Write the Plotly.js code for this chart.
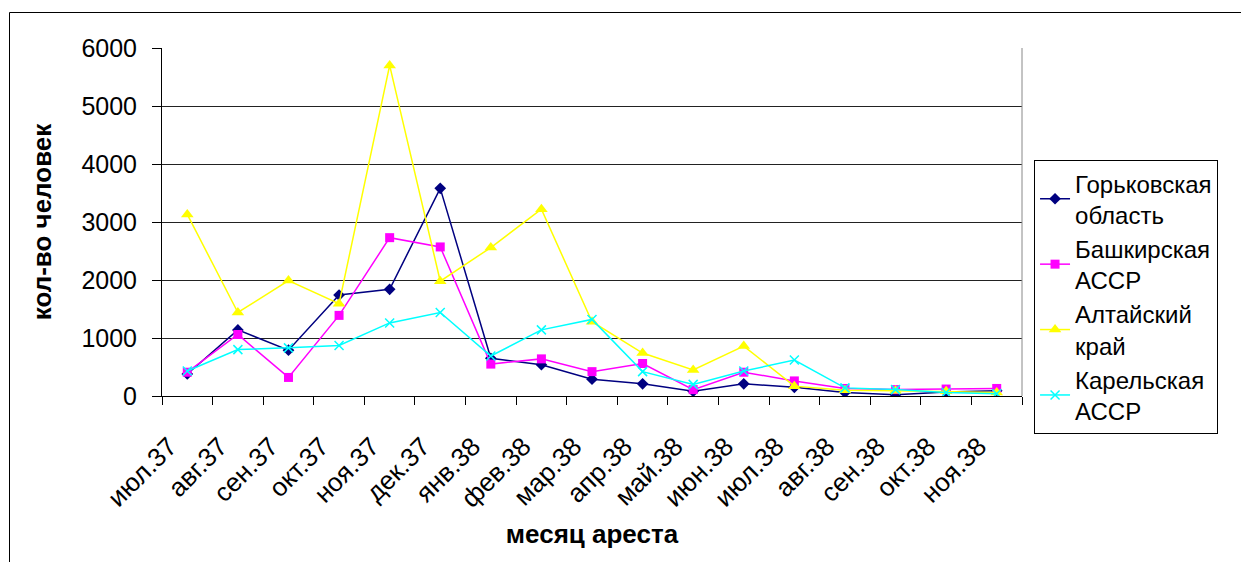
<!DOCTYPE html>
<html>
<head>
<meta charset="utf-8">
<script src="https://cdn.plot.ly/plotly-3.0.1.min.js"></script>
<style>
html,body{margin:0;padding:0;background:#fff;}
#chart{width:1241px;height:562px;}
</style>
</head>
<body>
<div id="chart"></div>
<script>
const months = ["июл.37","авг.37","сен.37","окт.37","ноя.37","дек.37","янв.38","фев.38","мар.38","апр.38","май.38","июн.38","июл.38","авг.38","сен.38","окт.38","ноя.38"];
const gorky   = [380, 1140, 790, 1740, 1840, 3580, 650, 540, 290, 210, 80, 210, 150, 60, 20, 70, 90];
const bashkir = [410, 1060, 320, 1390, 2730, 2570, 550, 640, 420, 560, 110, 410, 260, 130, 110, 120, 130];
const altai   = [3130, 1440, 1990, 1590, 5700, 1980, 2560, 3220, 1280, 740, 450, 860, 170, 100, 90, 80, 60];
const karelia = [430, 800, 830, 870, 1260, 1440, 690, 1140, 1320, 420, 200, 430, 620, 140, 110, 60, 40];

const seriesNames = ["Горьковская<br>область","Башкирская<br>АССР","Алтайский<br>край","Карельская<br>АССР"];
const seriesData = [gorky, bashkir, altai, karelia];
const colors = ["#000080","#FF00FF","#FFFF00","#00FFFF"];
const symbols = ["diamond","square","triangle-up","x-thin"];
const sizes = [9, 9, 11, 9];

const traces = seriesData.map((d,i)=>({
  type:"scatter", mode:"lines+markers",
  x: months, y: d, name: seriesNames[i],
  line:{color:colors[i], width:1.5},
  marker:{symbol:symbols[i], size:sizes[i], color:colors[i], line:{color:colors[i], width: symbols[i]==="x-thin"?1.5:0}}
}));

const F = "Liberation Sans, Arial, sans-serif";
const layout = {
  width:1241, height:562,
  margin:{l:162, r:219, t:48, b:166},
  paper_bgcolor:"#fff", plot_bgcolor:"#fff",
  showlegend:true,
  font:{family:F, color:"#000"},
  xaxis:{
    type:"category", tickangle:-45, tickson:"boundaries",
    ticks:"outside", ticklen:8, tickcolor:"#000",
    showline:true, linecolor:"#000", linewidth:1,
    showgrid:false, tickfont:{family:F, size:26, color:"#000"},
    ticklabelstandoff:24, ticklabelshift:-18,
    range:[-0.5,16.5],
    title:{text:"<b>месяц ареста</b>", font:{family:F, size:26, color:"#000"}, standoff:12},
    automargin:false
  },
  yaxis:{
    range:[0,6000], dtick:1000, tick0:0,
    ticks:"outside", ticklen:9, tickcolor:"#000",
    showline:true, linecolor:"#000", linewidth:1,
    showgrid:true, gridcolor:"#222", gridwidth:1,
    zeroline:false,
    tickfont:{family:F, size:25, color:"#000"},
    ticklabelstandoff:10,
    title:{text:"<b>кол-во человек</b>", font:{family:F, size:26, color:"#000"}, standoff:22},
    automargin:false
  },
  legend:{
    x:1.014, xanchor:"left", y:0.678, yanchor:"top",
    bordercolor:"#000", borderwidth:1, bgcolor:"#fff",
    font:{family:F, size:24, color:"#000"},
    tracegroupgap:0, itemwidth:30
  },
  shapes:[
    {type:"line", xref:"paper", yref:"paper", x0:1, x1:1, y0:0, y1:1, line:{color:"#888", width:1}},
    {type:"rect", xref:"paper", yref:"paper", x0:(9.5-162)/860, x1:(1300-162)/860, y0:(396-650)/348, y1:(396-12.5)/348, line:{color:"#000", width:1}, layer:"below"}
  ]
};
Plotly.newPlot("chart", traces, layout, {displayModeBar:false, staticPlot:true});
</script>
</body>
</html>
